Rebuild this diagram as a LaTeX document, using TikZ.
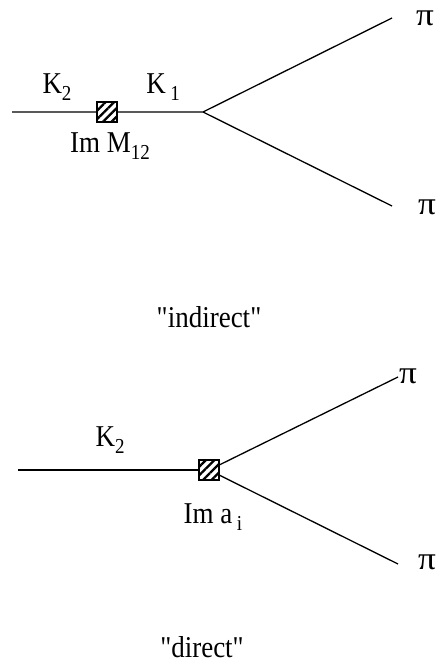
\documentclass[tikz,border=0pt]{standalone}
\usepackage{fontspec}
\setmainfont{Liberation Serif}[Ligatures=TeXOff]
\usetikzlibrary{patterns.meta}
\newcommand{\lowidx}[1]{\raisebox{-6pt}{\fontsize{19}{19}\selectfont #1}}
\tikzset{
  line/.style={line width=1.3pt},
  blob/.style={draw, line width=1.3pt, minimum size=20pt, inner sep=0pt,
    pattern={Lines[angle=45,distance=6pt,line width=2.2pt]}},
  lab/.style={font=\fontsize{27}{27}\selectfont, inner sep=0pt, yscale=1.12},
  pion/.style={font=\fontsize{32}{32}\selectfont, inner sep=0pt, xscale=1.1}
}
\begin{document}
\begin{tikzpicture}[x=1pt,y=-1pt]
\useasboundingbox (0,0) rectangle (439,666);
% indirect
\coordinate (a0) at (12,112);
\node[blob] (m12) at (107,112) {};
\coordinate (v) at (203,112);
\coordinate (p1) at (392,18);
\coordinate (p2) at (392,206);
\draw[line] (a0) -- (m12) -- (v) -- (p1);
\draw[line] (v) -- (p2);
\node[pion] (pi1) at (425,18) {π};
\node[pion] (pi2) at (427,207) {π};
\node[lab] (k2a) at (57,87) {K\lowidx{2}};
\node[lab] (k1) at (163,87) {K\,\lowidx{1}};
\node[lab] (imm) at (110,146) {Im M\lowidx{12}};
\node[lab] (ind) at (209,317) {"indirect"};
% direct
\coordinate (b0) at (18,470);
\node[blob] (ai) at (209,470) {};
\coordinate (q1) at (398,377);
\coordinate (q2) at (398,564);
\draw[line] (b0) -- (ai);
\draw[line] (ai) -- (q1);
\draw[line] (ai) -- (q2);
\node[pion] (pi3) at (408,376) {π};
\node[pion] (pi4) at (427,562) {π};
\node[lab] (k2b) at (110,440) {K\lowidx{2}};
\node[lab] (ima) at (213,517) {Im a\,\lowidx{i}};
\node[lab] (dir) at (202,647) {"direct"};
\end{tikzpicture}
\end{document}
